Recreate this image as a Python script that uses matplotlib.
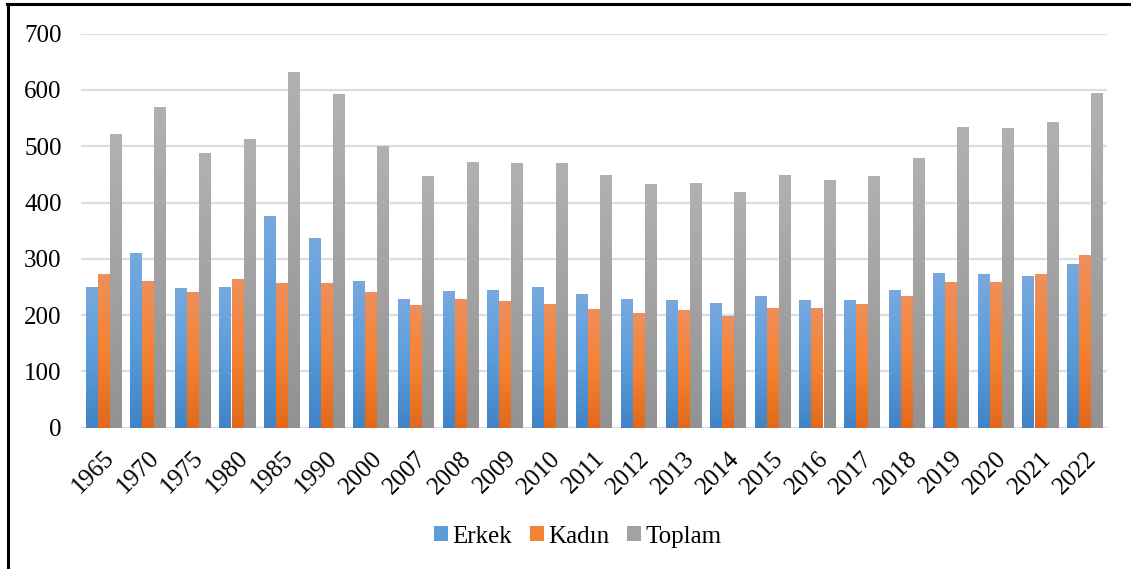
import numpy as np
import matplotlib
matplotlib.use("Agg")
import matplotlib.pyplot as plt
from matplotlib.colors import LinearSegmentedColormap
from matplotlib.lines import Line2D
from matplotlib.patches import Patch

# data
years = ["1965", "1970", "1975", "1980", "1985", "1990", "2000", "2007", "2008",
         "2009", "2010", "2011", "2012", "2013", "2014", "2015", "2016", "2017",
         "2018", "2019", "2020", "2021", "2022"]
erkek = [250, 310, 247, 250, 375, 336, 260, 229, 243, 244, 249, 238, 228, 226,
         221, 234, 226, 227, 245, 275, 273, 270, 290]
kadin = [272, 260, 240, 263, 256, 256, 240, 217, 228, 225, 220, 210, 204, 208,
         198, 213, 213, 220, 234, 259, 259, 273, 306]
toplam = [521, 570, 487, 512, 631, 592, 500, 446, 471, 469, 469, 448, 432, 434,
          419, 448, 439, 447, 479, 534, 532, 543, 595]
series_names = ["Erkek", "Kadın", "Toplam"]

# bottom -> mid -> top colours of the Excel-like gradient
gradients = [
    ["#4283C6", "#5B9CDB", "#78A9DE"],
    ["#E2691B", "#F58232", "#EF8F5C"],
    ["#929292", "#A2A2A2", "#B1B1B1"],
]

plt.rcParams["font.family"] = ["Liberation Serif", "DejaVu Serif"]

fig = plt.figure(figsize=(11.31, 5.69), dpi=100)
ax = fig.add_axes([0.0716, 0.2483, 0.9072, 0.6925])

x = np.arange(len(years))
width = 0.25
step = 0.27
grad = np.linspace(0, 1, 256).reshape(-1, 1)

for i, vals in enumerate([erkek, kadin, toplam]):
    cmap = LinearSegmentedColormap.from_list(f"g{i}", gradients[i])
    offs = (i - 1) * step
    bars = ax.bar(x + offs, vals, width, color="none", edgecolor="none")
    for b in bars:
        x0, w, h = b.get_x(), b.get_width(), b.get_height()
        ax.imshow(grad, cmap=cmap, origin="lower", aspect="auto",
                  extent=(x0, x0 + w, 0, h), zorder=3, interpolation="bilinear")

ax.set_xlim(-0.5, len(years) - 0.5)
ax.set_ylim(0, 700)
ax.set_yticks(range(0, 701, 100))
ax.set_xticks(x)
ax.set_xticklabels(years, rotation=45, ha="right", va="top",
                   rotation_mode="anchor")
ax.tick_params(axis="both", length=0, labelsize=18)
ax.tick_params(axis="y", pad=14)
ax.tick_params(axis="x", pad=14)

ax.grid(axis="y", color="#D9DEE6", linewidth=1.6, zorder=0)
ax.set_axisbelow(True)
for s in ax.spines.values():
    s.set_visible(False)

handles = [Patch(facecolor=gradients[i][1], edgecolor="none") for i in range(3)]
fig.legend(handles, series_names, loc="center", bbox_to_anchor=(0.511, 0.057),
           ncol=3, frameon=False, fontsize=18, handlelength=0.55,
           handleheight=0.55, handletextpad=0.2, columnspacing=0.7)

# outer frame (left and top)
fig.add_artist(Line2D([0.0075, 0.0075], [0, 0.993], transform=fig.transFigure,
                      color="black", linewidth=2.2))
fig.add_artist(Line2D([0.0065, 1.0], [0.993, 0.993], transform=fig.transFigure,
                      color="black", linewidth=2.2))

fig.savefig("out.png", dpi=100)
